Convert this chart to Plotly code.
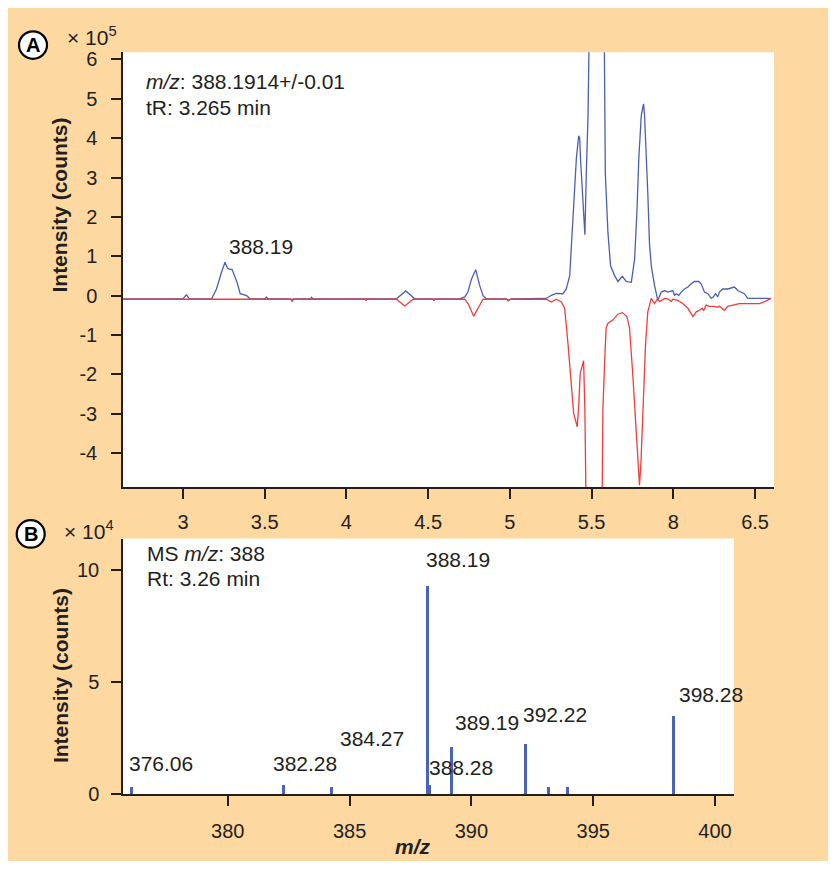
import plotly.graph_objects as go

# ---------------- Panel A data (x: retention time, y: intensity x1e5) ----------------
blue_t = [2.633, 3.00, 3.02, 3.04, 3.175, 3.205, 3.236, 3.257, 3.272, 3.287, 3.30, 3.33, 3.35, 3.39, 3.41,
          3.50, 3.51, 3.52, 3.66, 3.668, 3.675, 3.78, 3.787, 3.795, 4.306, 4.363, 4.418, 4.53, 4.535, 4.54,
          4.693, 4.724, 4.744, 4.765, 4.791, 4.815, 4.836, 4.856, 4.98, 4.99, 5.01,
          5.223, 5.254, 5.284, 5.325, 5.345, 5.366, 5.376, 5.386, 5.396, 5.407, 5.421, 5.427, 5.433, 5.443,
          5.453, 5.459, 5.468, 5.478, 5.49, 5.53, 5.575, 5.584, 5.60, 5.616, 5.641, 5.661, 5.688, 5.712,
          5.743, 5.763, 5.777, 5.789, 5.804, 5.818, 5.824, 5.834, 5.844, 5.854, 5.865, 5.885, 5.905,
          5.926, 5.946, 5.967, 5.987, 5.997, 6.007, 6.018, 6.034, 6.048, 6.068, 6.089, 6.109, 6.13, 6.156,
          6.17, 6.191, 6.211, 6.232, 6.246, 6.258, 6.272, 6.282, 6.303, 6.333, 6.374, 6.394, 6.415, 6.435,
          6.455, 6.59]
blue_v = [-0.08, -0.08, 0.02, -0.08, -0.08, 0.17, 0.60, 0.85, 0.70, 0.67, 0.67, 0.35, 0.05, 0.0, -0.08,
          -0.08, -0.04, -0.08, -0.08, -0.12, -0.08, -0.08, -0.04, -0.08, -0.08, 0.12, -0.08, -0.08, -0.13, -0.08,
          -0.08, -0.03, 0.10, 0.42, 0.66, 0.26, 0.0, -0.08, -0.08, -0.12, -0.08,
          -0.07, 0.01, 0.06, 0.05, 0.17, 0.50, 1.17, 2.00, 2.75, 3.50, 4.06, 4.00, 3.42, 2.75,
          2.09, 1.55, 3.17, 4.54, 8.0, 9.0, 8.0, 3.09, 1.60, 0.76, 0.51, 0.36, 0.49, 0.36,
          0.34, 0.92, 2.09, 3.50, 4.58, 4.87, 4.58, 3.67, 2.59, 1.34, 0.76, 0.26, -0.12,
          0.09, 0.13, 0.09, 0.13, 0.13, 0.01, 0.05, 0.01, 0.09, 0.17, 0.22, 0.30, 0.36, 0.36,
          0.30, 0.09, 0.05, -0.07, -0.03, 0.05, -0.03, 0.09, 0.17, 0.17, 0.22, 0.13, 0.09, 0.05,
          -0.07, -0.07]

red_t = [2.633, 3.66, 3.668, 3.675, 4.118, 4.12, 4.125, 4.306, 4.357, 4.408, 4.53, 4.535, 4.54,
         4.724, 4.744, 4.765, 4.779, 4.805, 4.836, 4.98, 4.99, 5.00,
         5.223, 5.254, 5.284, 5.315, 5.335, 5.356, 5.376, 5.39, 5.412, 5.422, 5.43, 5.451, 5.459,
         5.468, 5.51, 5.55, 5.563, 5.569, 5.58, 5.589, 5.60, 5.63, 5.661, 5.688, 5.716, 5.732, 5.753,
         5.773, 5.785, 5.793, 5.802, 5.814, 5.83, 5.844, 5.865, 5.885, 5.895, 5.905, 5.916, 5.926,
         5.946, 5.967, 5.987, 5.997, 6.028, 6.058, 6.089, 6.12, 6.14, 6.16, 6.177, 6.185, 6.201, 6.221,
         6.246, 6.272, 6.282, 6.313, 6.333, 6.364, 6.404, 6.466, 6.528, 6.558, 6.599]
red_v = [-0.09, -0.09, -0.15, -0.09, -0.09, -0.13, -0.09, -0.09, -0.26, -0.09, -0.09, -0.13, -0.09,
         -0.09, -0.20, -0.40, -0.52, -0.32, -0.09, -0.09, -0.13, -0.09,
         -0.09, -0.16, -0.09, -0.16, -0.32, -1.24, -2.24, -2.98, -3.33, -2.74, -1.99, -1.65, -2.90,
         -6.0, -7.5, -7.0, -6.0, -2.90, -1.65, -0.82, -0.70, -0.62, -0.47, -0.43, -0.53, -0.82, -2.07,
         -3.32, -4.23, -4.81, -4.23, -2.74, -1.24, -0.41, -0.07, -0.20, -0.12, -0.07, -0.15, -0.12,
         -0.07, -0.08, -0.15, -0.09, -0.12, -0.20, -0.32, -0.53, -0.41, -0.37, -0.32, -0.38, -0.24, -0.27,
         -0.27, -0.29, -0.27, -0.37, -0.27, -0.24, -0.20, -0.20, -0.20, -0.15, -0.07]

a_xticks = [3, 3.5, 4, 4.5, 5, 5.5, 6, 6.5]
a_xticktext = ["3", "3.5", "4", "4.5", "5", "5.5", "8", "6.5"]
a_yticks = [-4, -3, -2, -1, 0, 1, 2, 3, 4, 5, 6]
a_yticktext = ["-4", "-3", "-2", "-1", "0", "1", "2", "3", "4", "5", "6"]

# ---------------- Panel B data (m/z, intensity x1e4) ----------------
ms_mz = [376.06, 382.28, 384.27, 388.19, 388.28, 389.19, 392.22, 393.18, 393.96, 398.28]
ms_int = [0.35, 0.44, 0.35, 9.31, 0.44, 2.13, 2.25, 0.35, 0.35, 3.51]
label_text = ["376.06", "382.28", "384.27", "388.19", "388.28", "389.19", "392.22", "398.28"]
label_x = [377.26, 383.16, 385.93, 389.46, 389.58, 390.64, 393.42, 399.85]
label_y = [1.36, 1.36, 2.47, 10.45, 1.18, 3.17, 3.54, 4.44]
b_xticks = [380, 385, 390, 395, 400]
b_yticks = [0, 5, 10]

OFF = 8                              # page body margin
W, H = 836 - 2 * OFF, 869 - 2 * OFF  # page (figure + margins) exactly fills the window
FONT = "Liberation Sans, Arial, Helvetica, sans-serif"
INK = "#231f20"
ORANGE = "#fdd8a1"


def px(x):
    return (x - OFF) / W


def py(y):
    return 1 - (y - OFF) / H


fig = go.Figure()
fig.add_trace(go.Scatter(x=blue_t, y=blue_v, mode="lines", line=dict(color="#4a5fb4", width=1.3),
                         xaxis="x", yaxis="y", showlegend=False, hoverinfo="skip"))
fig.add_trace(go.Scatter(x=red_t, y=red_v, mode="lines", line=dict(color="#f03c3c", width=1.3),
                         xaxis="x", yaxis="y", showlegend=False, hoverinfo="skip"))
fig.add_trace(go.Bar(x=ms_mz, y=ms_int, width=0.12, marker=dict(color="#4a62b8", line=dict(width=0)),
                     xaxis="x2", yaxis="y2", showlegend=False, hoverinfo="skip"))

axis_common = dict(showgrid=False, zeroline=False, showline=True, linecolor=INK, linewidth=1.5,
                   ticks="outside", tickcolor=INK, tickwidth=1.5, ticklen=10,
                   tickfont=dict(family=FONT, size=20, color=INK))

fig.update_layout(
    width=W, height=H,
    margin=dict(l=0, r=0, t=0, b=0),
    paper_bgcolor=ORANGE, plot_bgcolor="white",
    bargap=0,
    xaxis=dict(domain=[px(123), px(774)], range=[2.633, 6.616], anchor="y",
               tickmode="array", tickvals=a_xticks, ticktext=a_xticktext, ticklabelstandoff=6, **axis_common),
    yaxis=dict(domain=[py(492), py(49)], range=[-4.87, 6.18], anchor="x",
               tickmode="array", tickvals=a_yticks, ticktext=a_yticktext, ticklabelstandoff=10, **axis_common),
    xaxis2=dict(domain=[px(123), px(734)], range=[375.7, 400.78], anchor="y2",
                tickmode="array", tickvals=b_xticks, ticklabelstandoff=8, **axis_common),
    yaxis2=dict(domain=[py(804), py(544)], range=[0, 11.4], anchor="x2",
                tickmode="array", tickvals=b_yticks, ticklabelstandoff=8, **axis_common),
)

# panel circles
for (cx, cy, letter) in [(33, 41.7, "A"), (30.7, 539.3, "B")]:
    fig.add_shape(type="circle", xref="paper", yref="paper",
                  x0=px(cx - 14), x1=px(cx + 14), y0=py(cy + 14), y1=py(cy - 14),
                  fillcolor="white", line=dict(color="black", width=2.2), layer="above")
    fig.add_annotation(x=px(cx), y=py(cy), xref="paper", yref="paper", text=f"<b>{letter}</b>",
                       showarrow=False, font=dict(family=FONT, size=20, color="black"),
                       xanchor="center", yanchor="middle")


def ann(x, y, text, xanchor="left", xref="paper", yref="paper", size=21, angle=0):
    fig.add_annotation(x=x, y=y, xref=xref, yref=yref, text=text, showarrow=False,
                       font=dict(family=FONT, size=size, color=INK), xanchor=xanchor, yanchor="middle",
                       textangle=angle)


# multipliers
ann(px(65), py(32), "× 10<sup>5</sup>", size=21)
ann(px(62), py(535), "× 10<sup>4</sup>", size=21)

# y-axis titles
ann(px(60), py(205), "<b>Intensity (counts)</b>", xanchor="center", angle=-90)
ann(px(60), py(684), "<b>Intensity (counts)</b>", xanchor="center", angle=-90)

# x-axis title for panel B
ann(px(413), py(857), "<b><i>m/z</i></b>", xanchor="center")

# panel A texts
ann(px(144), py(79), "<i>m/z</i>: 388.1914+/-0.01")
ann(px(144), py(105), "tR: 3.265 min")
ann(px(261), py(246.7), "388.19", xanchor="center")

# panel B texts
ann(px(145), py(559), "MS <i>m/z</i>: 388")
ann(px(145), py(585), "Rt: 3.26 min")
for t, lx, ly in zip(label_text, label_x, label_y):
    ann(lx, ly, t, xanchor="center", xref="x2", yref="y2")

fig.write_html("out.html")
